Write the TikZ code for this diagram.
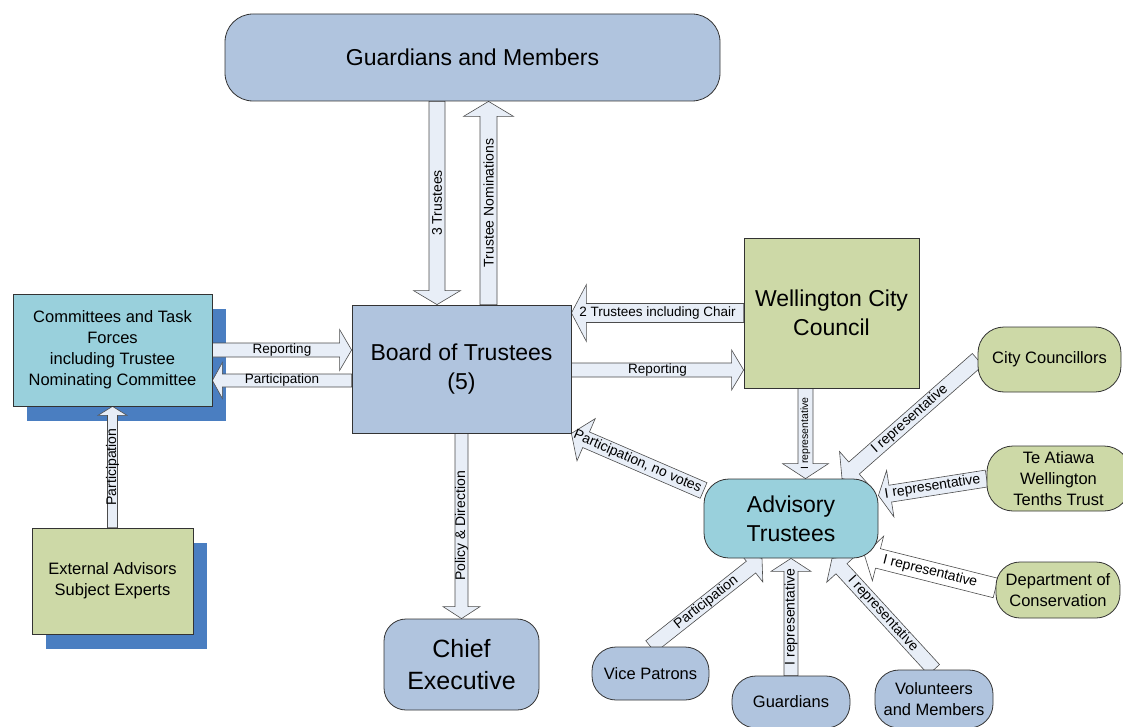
\documentclass[tikz,border=0pt]{standalone}
\usepackage{fontspec}
\setmainfont{Liberation Sans}
\usepackage{tikz}
\usetikzlibrary{calc}
\usetikzlibrary{positioning}

\definecolor{steel}{RGB}{176,196,222}
\definecolor{leaf}{RGB}{205,217,167}
\definecolor{aqua}{RGB}{153,208,220}
\definecolor{shadowblue}{RGB}{74,126,193}
\definecolor{arrfill}{RGB}{232,238,247}

\pgfdeclarelayer{shadowlayer}
\pgfdeclarelayer{arrowlayer}
\pgfsetlayers{shadowlayer,arrowlayer,main}

% block arrow: [scope keys]{from}{to}{shaft}{head}{head length}{label}
\newcommand{\blockarr}[7][]{%
  \path let \p1=(#2), \p2=(#3) in
    \pgfextra{\xdef\bax{\x1}\xdef\bay{\y1}\xdef\bbx{\x2}\xdef\bby{\y2}};
  \pgfmathsetmacro\barang{atan2(\bby-\bay,\bbx-\bax)}%
  \pgfmathsetmacro\barlen{veclen(\bbx-\bax,\bby-\bay)}%
  \pgfmathsetmacro\barbase{\barlen-#6}%
  \pgfmathsetmacro\barrot{(\barang > 90.5 || \barang < -89.5) ? \barang+180 : \barang}%
  \begin{scope}[shift={(\bax,\bay)}, rotate=\barang, x=1pt, y=1pt, #1]
    \draw[arrbody] (0,-#4/2) -- (\barbase,-#4/2) -- (\barbase,-#5/2)
      -- (\barlen,0) -- (\barbase,#5/2) -- (\barbase,#4/2) -- (0,#4/2) -- cycle;
    \node[arrlabel, rotate=\barrot] at (\barlen/2,0) {#7};
  \end{scope}}

\begin{document}
\begin{tikzpicture}[
            x = 1pt, y = -1pt, % one unit = one pixel of the sketch
            box/.style = {draw = black!80, line width = 0.8pt, inner sep = 0pt, align = center},
            bigtext/.style = {font = \fontsize{23}{29}\selectfont},
            smalltext/.style = {font = \fontsize{16.5}{21}\selectfont},
            arrbody/.style = {draw = black!70, fill = arrfill, line width = 0.6pt, line join = miter},
            arrlabel/.style = {font = \fontsize{14}{16}\selectfont, inner sep = 0pt},
            flatlabel/.style = {arrlabel/.append style = {font = \fontsize{13.5}{16}\selectfont}},
            tinylabel/.style = {arrlabel/.append style = {font = \fontsize{10.5}{12}\selectfont}}
        ]

        \useasboundingbox (0,0) rectangle (1123,727);
        \clip (0,0) rectangle (1123,727);

        % main bodies
        \node[box, bigtext, fill = steel, rounded corners = 28pt, minimum width = 495pt, minimum height = 87pt]
            (GM) at (472.5,57.5) {Guardians and Members};
        \node[box, bigtext, fill = steel, minimum width = 219pt, minimum height = 128pt]
            (B) at (461.5,369) {Board of Trustees\\(5)};
        \node[box, bigtext, fill = leaf, minimum width = 175pt, minimum height = 150pt]
            (WCC) at (831.5,313) {Wellington City\\Council};
        \node[box, font = \fontsize{25}{32}\selectfont, fill = steel, rounded corners = 22pt,
            minimum width = 155pt, minimum height = 91pt, below of = B, node distance = 295.5pt]
            (CE) {Chief\\Executive};

        % committees and advisors (with shadow)
        \node[box, smalltext, fill = aqua, minimum width = 199pt, minimum height = 112pt]
            (CTF) at (112.5,350) {Committees and Task\\Forces\\including Trustee\\Nominating Committee};
        \node[box, smalltext, fill = leaf, minimum width = 161pt, minimum height = 106pt,
            below of = CTF, node distance = 231pt]
            (EXT) {External Advisors\\Subject Experts};

        \begin{pgfonlayer}{shadowlayer}
            \fill[shadowblue] ([shift={(14,15)}]CTF.north west) rectangle ([shift={(14,15)}]CTF.south east);
            \fill[shadowblue] ([shift={(14,15)}]EXT.north west) rectangle ([shift={(14,15)}]EXT.south east);
        \end{pgfonlayer}

        % advisory trustees and their sources
        \node[box, bigtext, fill = aqua, rounded corners = 25pt, minimum width = 174pt, minimum height = 79pt]
            (AT) at (791,518.5) {Advisory\\Trustees};
        \node[box, smalltext, fill = leaf, rounded corners = 26pt, minimum width = 143pt, minimum height = 65pt]
            (CC) at (1049.5,359.5) {City Councillors};
        \node[box, smalltext, fill = leaf, rounded corners = 26pt, minimum width = 143pt, minimum height = 65pt]
            (TA) at (1058.5,478.5) {Te Atiawa\\Wellington\\Tenths Trust};
        \node[box, smalltext, fill = leaf, rounded corners = 24pt, minimum width = 124pt, minimum height = 56pt]
            (DOC) at (1058,590) {Department of\\Conservation};
        \node[box, smalltext, fill = steel, rounded corners = 24pt, minimum width = 117pt, minimum height = 53pt]
            (VP) at (650.5,673.5) {Vice Patrons};
        \node[box, smalltext, fill = steel, rounded corners = 24pt, minimum width = 118pt, minimum height = 52pt,
            below of = AT, node distance = 183.5pt]
            (GU) {Guardians};
        \node[box, smalltext, fill = steel, rounded corners = 24pt, minimum width = 118pt, minimum height = 58pt]
            (VM) at (934,699) {Volunteers\\and Members};

        % block arrows
        \begin{pgfonlayer}{arrowlayer}
            \blockarr{[xshift=-35.5]GM.south}{[xshift=-24.5]B.north}{16}{47}{14}{3 Trustees}
            \blockarr{[xshift=27]B.north}{[xshift=16]GM.south}{17}{50}{15}{Trustee Nominations}
            \blockarr[flatlabel]{WCC.west}{[yshift=56]B.east}{19}{57}{15}{2 Trustees including Chair}
            \blockarr[flatlabel]{[yshift=-1]B.east}{[yshift=-57]WCC.west}{14}{40}{12}{Reporting}
            \blockarr[flatlabel]{CTF.east}{[yshift=19]B.west}{14}{41}{12}{Reporting}
            \blockarr[flatlabel]{[yshift=-11.5]B.west}{[yshift=-30.5]CTF.east}{13}{36}{10}{Participation}
            \blockarr{EXT.north}{CTF.south}{10}{29}{9}{Participation}
            \blockarr{B.south}{CE.north}{13}{37}{12}{Policy \& Direction}
            \blockarr[tinylabel]{[xshift=-26]WCC.south}{[xshift=14.5]AT.north}{15}{46}{15}{I representative}
            \blockarr{[yshift=28]AT.west}{B.south east}{17}{46}{16}{Participation, no votes}
            \blockarr{CC.west}{[xshift=51]AT.north}{16}{44}{16}{I representative}
            \blockarr{TA.west}{[yshift=23]AT.east}{17}{47}{12}{I representative}
            \blockarr[arrbody/.append style = {fill = white}]{[yshift=2]DOC.west}{[xshift=-14,yshift=-36.5]AT.east}{20}{46}{14}{I representative}
            \blockarr{VP.north}{[xshift=-29]AT.south}{15}{38}{14}{Participation}
            \blockarr{GU.north}{AT.south}{14}{40}{13}{I representative}
            \blockarr{VM.north}{[xshift=41]AT.south}{15}{40}{14}{I representative}
        \end{pgfonlayer}

  \end{tikzpicture}
\end{document}
